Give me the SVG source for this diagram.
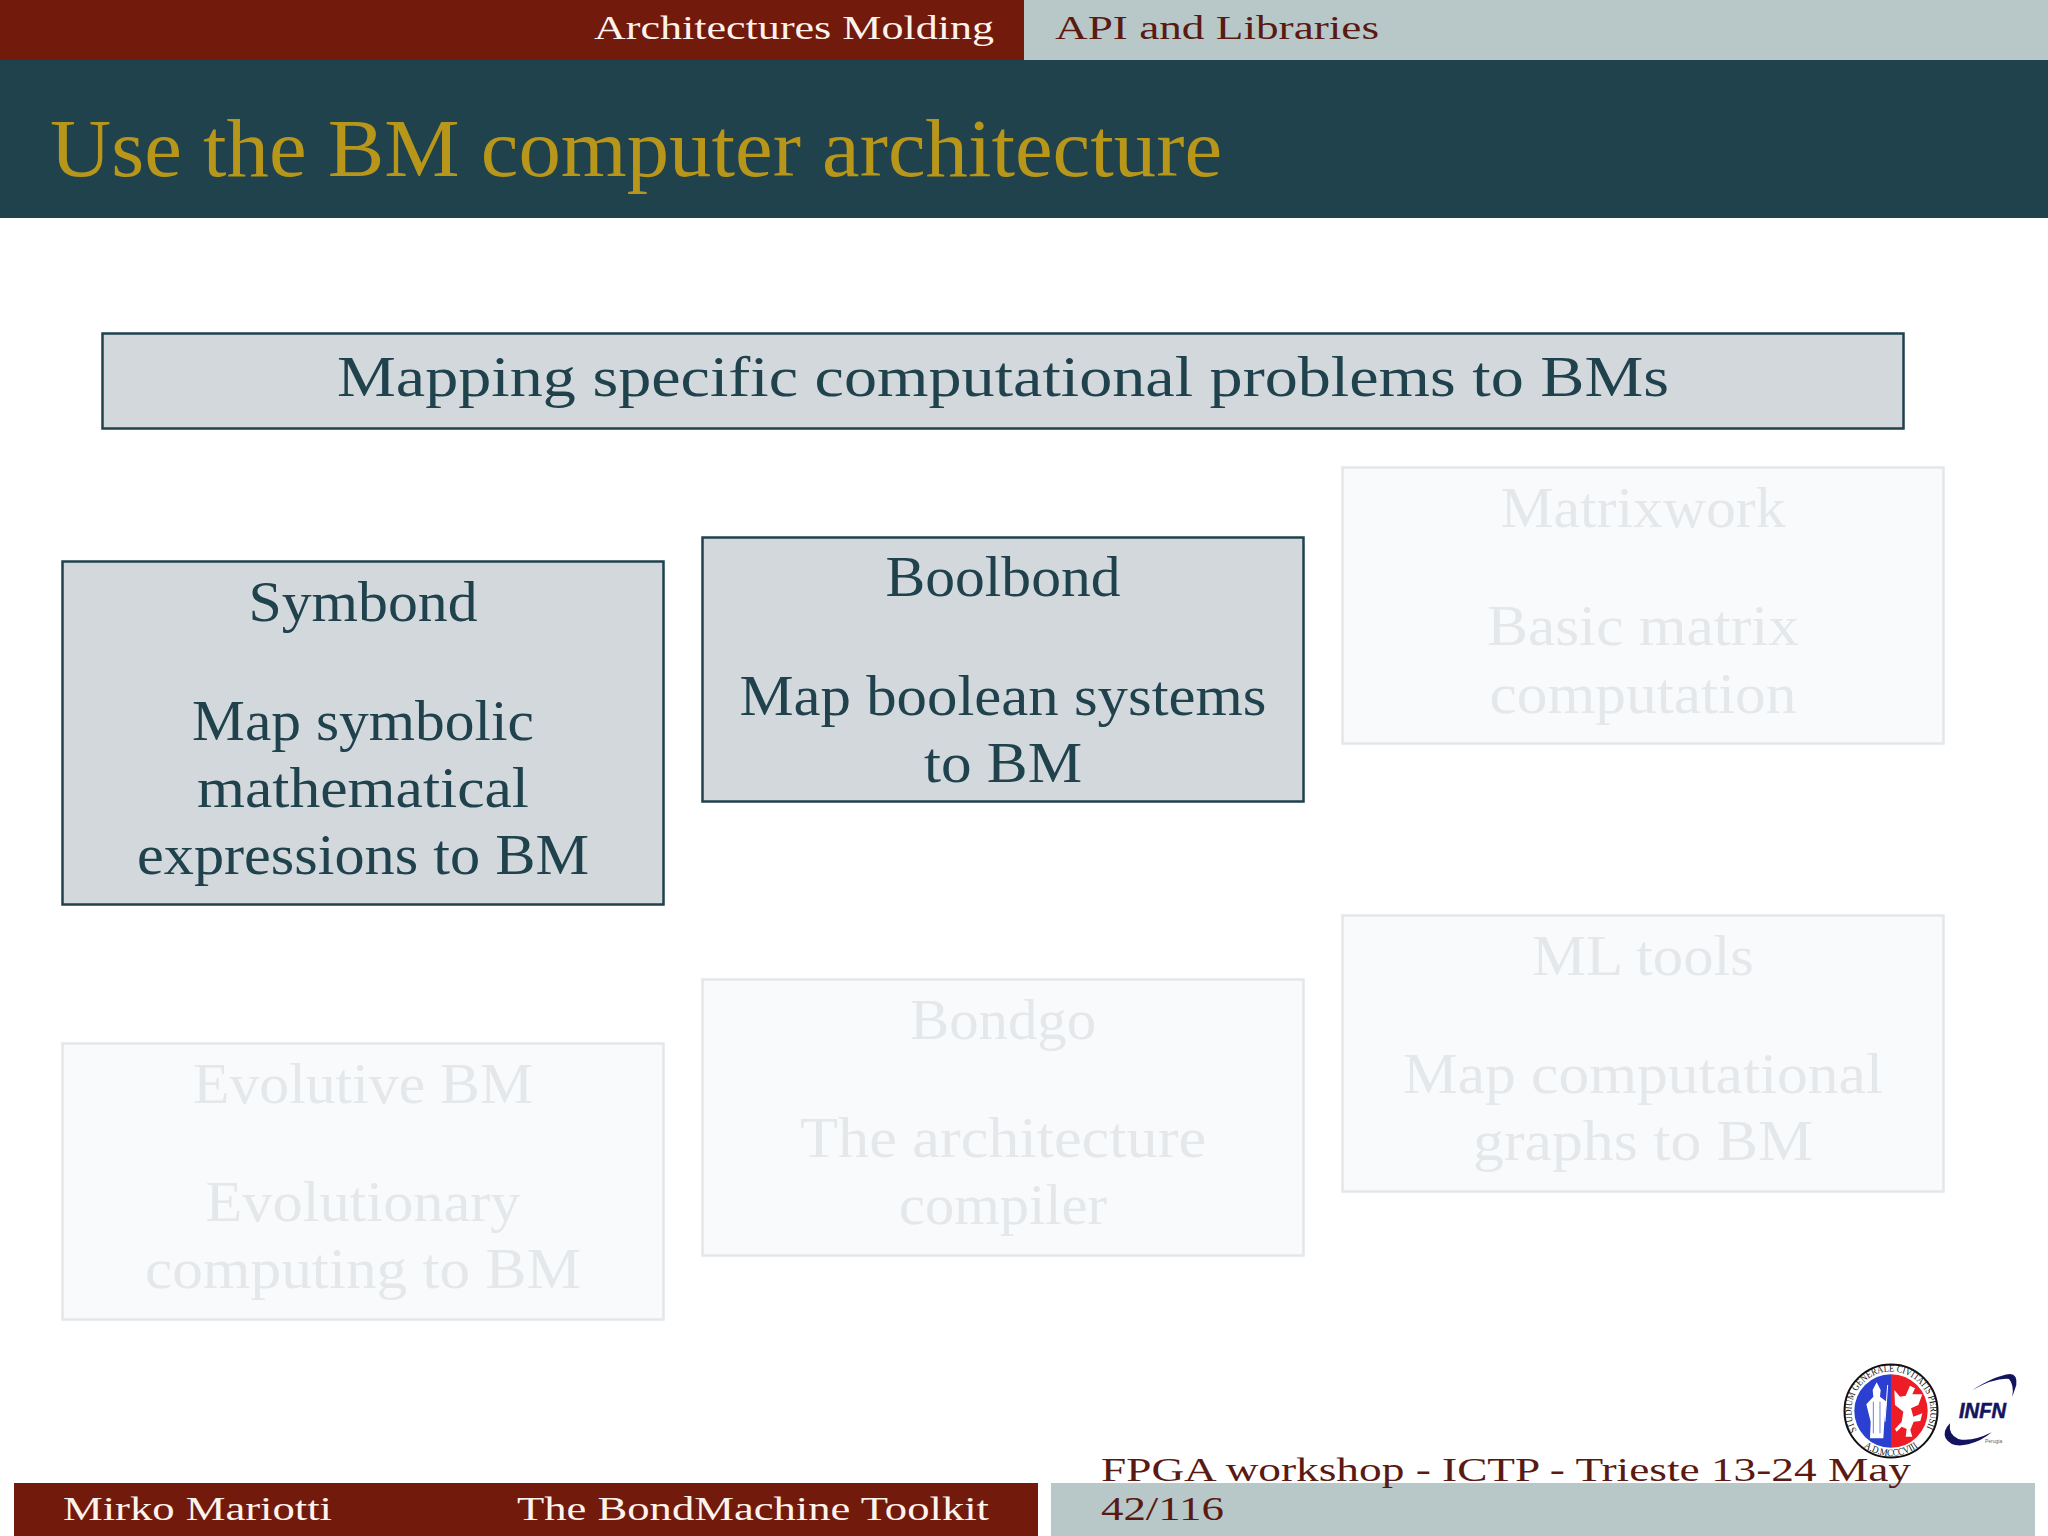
<svg xmlns="http://www.w3.org/2000/svg" xmlns:xlink="http://www.w3.org/1999/xlink" width="2048" height="1536" viewBox="0 0 2048 1536">
<style>
text{font-family:"Liberation Serif","Times New Roman",serif}
.red{fill:#721a0b}.pale{fill:#b8c8c9}
.bar{font-size:33px}
.on rect{fill:#d2d8dc;stroke:#1f424d;stroke-width:2.500}
.on text{fill:#1f424d;font-size:58px;text-anchor:middle}
.off rect{fill:#f9fafb;stroke:#e3e7ea;stroke-width:2.500}
.off text{fill:#e4e8eb;font-size:58px;text-anchor:middle}
</style>
<defs>
<path id="ring" d="M1856.800 1430.750A39.500 39.500 0 1 1 1926.500 1428.300"/>
<path id="ringb" d="M1846 1411A45 45 0 0 0 1936 1411"/>
</defs>
<rect width="2048" height="1536" fill="#fff"/>
<g id="header">
<rect class="red" width="1024" height="60"/>
<rect class="pale" x="1024" width="1024" height="60"/>
<rect x="0" y="60" width="2048" height="158" fill="#1f424d"/>
<text class="bar" x="594" y="39" textLength="400" lengthAdjust="spacingAndGlyphs" fill="#fdf3ec">Architectures Molding</text>
<text class="bar" x="1055" y="39" textLength="324" lengthAdjust="spacingAndGlyphs" fill="#5a1a12">API and Libraries</text>
<text x="50" y="176" font-size="82" textLength="1172" lengthAdjust="spacingAndGlyphs" fill="#b8961a">Use the BM computer architecture</text>
</g>
<g id="heading" class="on">
<rect x="102.500" y="333.500" width="1801" height="95"/>
<text x="1003" y="396" textLength="1332" lengthAdjust="spacingAndGlyphs">Mapping specific computational problems to BMs</text>
</g>
<g id="symbond" class="on">
<rect x="62.500" y="561.500" width="601" height="343"/>
<text x="363" y="621" textLength="229" lengthAdjust="spacingAndGlyphs">Symbond</text>
<text x="363" y="740" textLength="342" lengthAdjust="spacingAndGlyphs">Map symbolic</text>
<text x="363" y="807" textLength="332" lengthAdjust="spacingAndGlyphs">mathematical</text>
<text x="363" y="874" textLength="452" lengthAdjust="spacingAndGlyphs">expressions to BM</text>
</g>
<g id="boolbond" class="on">
<rect x="702.500" y="537.500" width="601" height="264"/>
<text x="1003" y="596" textLength="235" lengthAdjust="spacingAndGlyphs">Boolbond</text>
<text x="1003" y="715" textLength="527" lengthAdjust="spacingAndGlyphs">Map boolean systems</text>
<text x="1003" y="782" textLength="158" lengthAdjust="spacingAndGlyphs">to BM</text>
</g>
<g id="matrixwork" class="off">
<rect x="1342.500" y="467.500" width="601" height="276"/>
<text x="1643" y="527" textLength="285" lengthAdjust="spacingAndGlyphs">Matrixwork</text>
<text x="1643" y="645" textLength="312" lengthAdjust="spacingAndGlyphs">Basic matrix</text>
<text x="1643" y="713" textLength="307" lengthAdjust="spacingAndGlyphs">computation</text>
</g>
<g id="mltools" class="off">
<rect x="1342.500" y="915.500" width="601" height="276"/>
<text x="1643" y="975" textLength="222" lengthAdjust="spacingAndGlyphs">ML tools</text>
<text x="1643" y="1093" textLength="480" lengthAdjust="spacingAndGlyphs">Map computational</text>
<text x="1643" y="1160" textLength="340" lengthAdjust="spacingAndGlyphs">graphs to BM</text>
</g>
<g id="bondgo" class="off">
<rect x="702.500" y="979.500" width="601" height="276"/>
<text x="1003" y="1039" textLength="186" lengthAdjust="spacingAndGlyphs">Bondgo</text>
<text x="1003" y="1157" textLength="406" lengthAdjust="spacingAndGlyphs">The architecture</text>
<text x="1003" y="1224" textLength="208" lengthAdjust="spacingAndGlyphs">compiler</text>
</g>
<g id="evolutive" class="off">
<rect x="62.500" y="1043.500" width="601" height="276"/>
<text x="363" y="1103" textLength="340" lengthAdjust="spacingAndGlyphs">Evolutive BM</text>
<text x="363" y="1221" textLength="315" lengthAdjust="spacingAndGlyphs">Evolutionary</text>
<text x="363" y="1288" textLength="436" lengthAdjust="spacingAndGlyphs">computing to BM</text>
</g>
<g id="footer">
<rect class="red" x="14" y="1483" width="1024" height="53"/>
<rect class="pale" x="1051" y="1483" width="984" height="53"/>
<text class="bar" x="63" y="1520" textLength="269" lengthAdjust="spacingAndGlyphs" fill="#fdf3ec">Mirko Mariotti</text>
<text class="bar" x="517" y="1520" textLength="472" lengthAdjust="spacingAndGlyphs" fill="#fdf3ec">The BondMachine Toolkit</text>
<text class="bar" x="1101" y="1481" textLength="810" lengthAdjust="spacingAndGlyphs" fill="#5a1a12">FPGA workshop - ICTP - Trieste 13-24 May</text>
<text class="bar" x="1101" y="1520" textLength="123" lengthAdjust="spacingAndGlyphs" fill="#5a1a12">42/116</text>
</g>
<g id="seal">
<circle cx="1891" cy="1411" r="46.500" fill="#fff" stroke="#111" stroke-width="2"/>
<path d="M1891 1374.300a36.700 36.700 0 0 0 0 73.400z" fill="#2b3fd0"/>
<path d="M1891 1374.300a36.700 36.700 0 0 1 0 73.400z" fill="#ee1c25"/>
<g transform="translate(1835 1355) scale(.3333)">
<path d="M125 82L137 105L135 125L155 140L148 200L145 250L105 250L107 200L94 148L115 125L113 105Z" fill="#fff"/>
<path d="M115 140V235M135 140V235" stroke="#2b3fd0" stroke-width="2" fill="none"/>
<path d="M158 90L150 200" stroke="#fff" stroke-width="3" fill="none"/>
<path d="M225 92L240 100L232 118L262 118L250 150L228 160L235 185L262 175L256 198L236 200L226 225L232 245L212 245L215 222L200 215L185 230L180 222L200 200L205 170L180 150L178 105L195 125L212 122Z" fill="#fff"/>
</g>
<text font-size="10" fill="#111"><textPath xlink:href="#ring" textLength="162" lengthAdjust="spacingAndGlyphs">STUDIUM GENERALE CIVITATIS PERUSII</textPath></text>
<text font-size="10" fill="#111" text-anchor="middle"><textPath xlink:href="#ringb" startOffset="50%" textLength="58" lengthAdjust="spacingAndGlyphs">A.D.MCCCVIII</textPath></text>
</g>
<g id="infn" fill="#14145e">
<g transform="translate(1835 1355) scale(.3333)">
<path d="M412 105Q480 62 525 57Q548 58 544 90L532 125Q538 90 522 72Q480 68 412 105Z"/>
<path d="M470 232Q410 262 370 252Q340 240 345 205Q322 228 332 250Q350 280 400 268Q440 258 470 232Z"/>
</g>
<text x="1959" y="1418" font-size="22" font-weight="bold" font-style="italic" stroke="#14145e" stroke-width=".6" textLength="47" lengthAdjust="spacingAndGlyphs" style="font-family:'Liberation Sans',sans-serif">INFN</text>
<text x="1985" y="1443" font-size="5" fill="#666" style="font-family:'Liberation Sans',sans-serif">Perugia</text>
</g>
</svg>
